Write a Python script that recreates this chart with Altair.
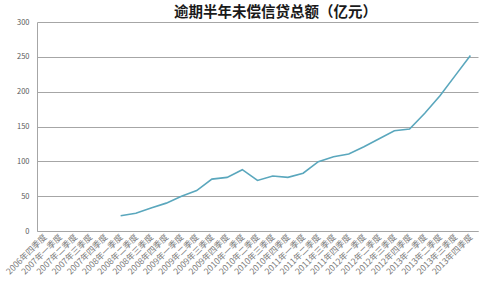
import altair as alt
import pandas as pd

quarters = ["2006年四季度"] + [f"{y}年{q}季度" for y in range(2007, 2014) for q in ["一", "二", "三", "四"]]
values = [None, None, None, None, None,
          22, 25.5, 33, 40, 50, 58, 74.5, 77, 88, 72.5, 79, 77,
          83, 99.5, 106.5, 110.5, 121, 132.5, 144, 146.5, 169, 194, 223, 252]

df = pd.DataFrame({"季度": quarters, "值": values})

chart = alt.Chart(df).mark_line(color="#5aa7bd", strokeWidth=1.6).encode(
    x=alt.X("季度:N", sort=quarters,
            scale=alt.Scale(type="point", domain=quarters, padding=0.5),
            axis=alt.Axis(title=None, labelAngle=-45, labelAlign="right", labelBaseline="middle",
                          labelFontSize=8.5, labelColor="#7a7a7a", labelFontWeight="normal",
                          labelOverlap=False, ticks=False, labelPadding=4,
                          domainColor="#a6a6a6", grid=False)),
    y=alt.Y("值:Q", scale=alt.Scale(domain=[0, 300]),
            axis=alt.Axis(title=None, values=[0, 50, 100, 150, 200, 250, 300],
                          labelFontSize=7.5, labelColor="#595959", ticks=False, labelPadding=8,
                          gridColor="#a6a6a6", domainColor="#a6a6a6")),
).properties(
    width=441, height=209,
    title=alt.TitleParams("逾期半年未偿信贷总额（亿元）", fontSize=14.5, fontWeight="bold",
                          font="Noto Sans CJK SC", color="#1a1a1a", anchor="middle", dx=18, offset=-2),
    autosize=alt.AutoSizeParams(type="none"),
    padding={"left": 37, "top": 22, "right": 13, "bottom": 56},
).configure_view(stroke=None).configure_axis(labelFont="Noto Sans CJK SC")

chart.save("out.html", embed_options={"renderer": "svg", "actions": False})
